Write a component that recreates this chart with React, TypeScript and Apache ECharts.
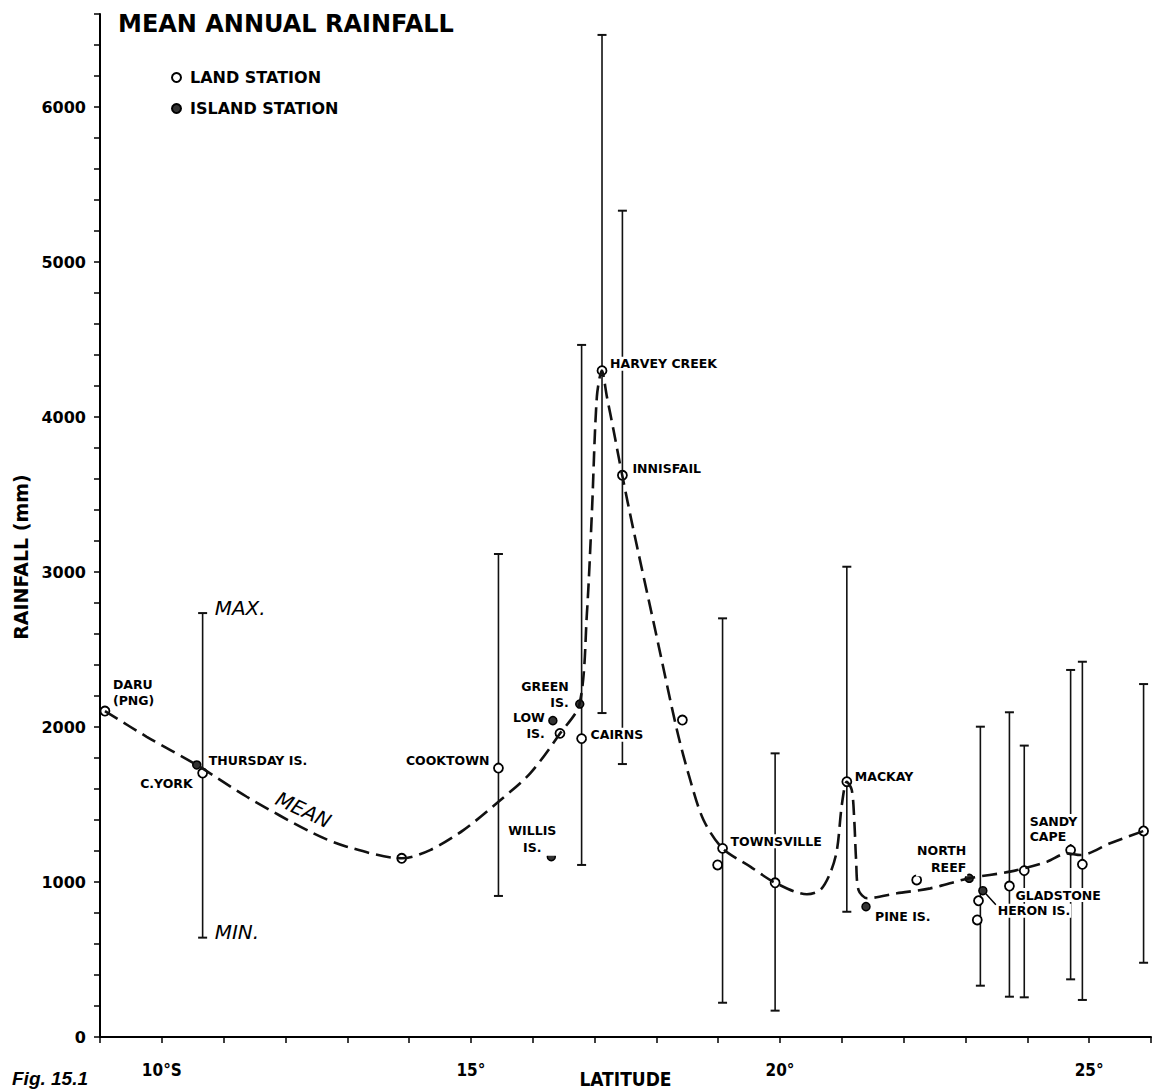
import React, { useEffect, useRef } from 'react';
import * as echarts from 'echarts';

// ---------- data ----------
const xTickLabels: Record<number, string> = { 10: '10°S', 15: '15°', 20: '20°', 25: '25°' };
const yTickLabels = [0, 1000, 2000, 3000, 4000, 5000, 6000];

const landLat = [9.08, 10.66, 13.88, 15.445, 16.44, 16.79, 17.12, 17.45, 18.42, 18.99, 19.07, 19.92, 21.08, 22.21, 23.19, 23.21, 23.71, 23.95, 24.70, 24.89, 25.88];
const landRain = [2103, 1703, 1153, 1735, 1959, 1925, 4299, 3624, 2045, 1110, 1217, 995, 1647, 1013, 755, 879, 974, 1073, 1206, 1114, 1329];
const landName = ['DARU\n(PNG)', 'C.YORK', '', 'COOKTOWN', '', 'CAIRNS', 'HARVEY CREEK', 'INNISFAIL', '', '', 'TOWNSVILLE', '', 'MACKAY', '', '', '', 'GLADSTONE', '', 'SANDY\nCAPE', '', ''];

const islandLat = [10.565, 16.30, 16.325, 16.76, 21.39, 23.06, 23.28];
const islandRain = [1755, 1163, 2041, 2148, 841, 1024, 944];
const islandName = ['THURSDAY IS.', 'WILLIS\nIS.', 'LOW\nIS.', 'GREEN\nIS.', 'PINE IS.', 'NORTH\nREEF', 'HERON IS.'];

const rangeLat = [10.66, 15.445, 16.79, 17.12, 17.45, 19.07, 19.92, 21.08, 23.24, 23.71, 23.95, 24.70, 24.89, 25.88];
const rangeMin = [641, 910, 1110, 2090, 1761, 221, 170, 808, 331, 260, 256, 372, 239, 479];
const rangeMax = [2735, 3116, 4465, 6465, 5331, 2701, 1830, 3034, 2002, 2095, 1880, 2368, 2421, 2277];

const meanLat = [9.08, 9.756, 10.565, 11.374, 12.451, 12.992, 13.882, 14.34, 14.879, 15.445, 15.958, 16.443, 16.756, 16.876, 16.956, 17.037, 17.118, 17.199, 17.306, 17.447, 17.629, 17.981, 18.332, 18.547, 18.762, 19.07, 19.518, 19.922, 20.435, 20.65, 20.81, 20.92, 21.0, 21.08, 21.16, 21.2, 21.23, 21.27, 21.41, 21.89, 22.43, 23.06, 23.72, 24.32, 24.64, 24.86, 25.34, 25.88];
const meanRain = [2103, 1937, 1755, 1550, 1314, 1228, 1153, 1206, 1335, 1518, 1701, 1959, 2148, 2734, 3379, 4131, 4299, 4131, 3916, 3624, 3271, 2626, 1981, 1658, 1400, 1217, 1099, 995, 921, 948, 1056, 1206, 1500, 1647, 1594, 1400, 1142, 948, 895, 927, 959, 1024, 1067, 1131, 1185, 1174, 1250, 1329];

// ---------- label layout (styling) ----------
type Lay = { offset: [number, number]; align: 'left' | 'right' | 'center'; lh?: number };
const labelLayout: Record<string, Lay> = {
  'DARU\n(PNG)': { offset: [7, -19], align: 'left', lh: 16 },
  'C.YORK': { offset: [-9, 10], align: 'right' },
  'COOKTOWN': { offset: [-8, -8], align: 'right' },
  'CAIRNS': { offset: [8, -4], align: 'left' },
  'HARVEY CREEK': { offset: [7, -7], align: 'left' },
  'INNISFAIL': { offset: [9, -7], align: 'left' },
  'TOWNSVILLE': { offset: [7, -7], align: 'left' },
  'MACKAY': { offset: [7, -5], align: 'left' },
  'GLADSTONE': { offset: [5, 9], align: 'left' },
  'SANDY\nCAPE': { offset: [-42, -21], align: 'left', lh: 15 },
  'THURSDAY IS.': { offset: [11, -4], align: 'left' },
  'WILLIS\nIS.': { offset: [-19, -18], align: 'center', lh: 17 },
  'LOW\nIS.': { offset: [-7, 5], align: 'right', lh: 16 },
  'GREEN\nIS.': { offset: [-10, -10], align: 'right', lh: 16 },
  'PINE IS.': { offset: [8, 10], align: 'left' },
  'NORTH\nREEF': { offset: [-2, -19], align: 'right', lh: 17 },
  'HERON IS.': { offset: [14, 20], align: 'left' },
};

const FONT = 'DejaVu Sans';
const COND = "'DejaVu Sans Condensed', 'DejaVu Sans'";

function buildPoints(lat: number[], rain: number[], names: string[]) {
  return lat.map((x, i) => {
    const name = names[i];
    const item: any = { value: [x, rain[i]], name };
    const lay = labelLayout[name];
    if (name && lay) {
      item.label = {
        show: true,
        formatter: name,
        position: 'inside',
        align: lay.align,
        verticalAlign: 'middle',
        offset: lay.offset,
        lineHeight: lay.lh ?? 14,
        color: '#000',
        fontSize: 12.5,
        fontWeight: 'bold',
        fontFamily: FONT,
        backgroundColor: '#fff',
        padding: [0, 1],
      };
    }
    return item;
  });
}

export default function App() {
  const ref = useRef<HTMLDivElement>(null);

  useEffect(() => {
    document.body.style.margin = '0';
    if (!ref.current) return;
    const chart = echarts.init(ref.current, null, { renderer: 'svg' });

    const rangeData = rangeLat.map((x, i) => [x, rangeMin[i], rangeMax[i]]);
    const meanData = meanLat.map((x, i) => [x, meanRain[i]]);

    chart.setOption({
      animation: false,
      backgroundColor: '#fff',
      title: {
        text: 'MEAN ANNUAL RAINFALL',
        left: 113,
        top: 7,
        textStyle: { fontFamily: FONT, fontSize: 24, fontWeight: 'bold', color: '#000' },
      },
      legend: {
        data: ['LAND STATION', 'ISLAND STATION'],
        orient: 'vertical',
        left: 171,
        top: 69,
        padding: 0,
        itemWidth: 9,
        itemHeight: 9,
        itemGap: 14,
        selectedMode: false,
        textStyle: { fontFamily: FONT, fontSize: 16, fontWeight: 'bold', color: '#000', lineHeight: 17, padding: [0, 0, 0, 4] },
      },
      grid: { left: 100, right: 2, top: 14, bottom: 53, containLabel: false, outerBoundsMode: 'none' },
      xAxis: {
        type: 'value',
        min: 9,
        max: 26,
        interval: 1,
        splitLine: { show: false },
        axisLine: { lineStyle: { color: '#000', width: 2 } },
        axisTick: { length: 6, lineStyle: { color: '#000', width: 1.5 } },
        axisLabel: {
          formatter: (v: number) => xTickLabels[v] ?? '',
          margin: 24,
          fontSize: 17,
          fontWeight: 'bold',
          color: '#000',
          fontFamily: COND,
        },
        name: 'LATITUDE',
        nameLocation: 'middle',
        nameGap: 32,
        nameMoveOverlap: false,
        nameTextStyle: { fontSize: 19, fontWeight: 'bold', color: '#000', fontFamily: COND },
      },
      yAxis: {
        type: 'value',
        min: 0,
        max: 6600,
        interval: 200,
        splitLine: { show: false },
        axisLine: { lineStyle: { color: '#000', width: 2 } },
        axisTick: { length: 6, lineStyle: { color: '#000', width: 1.5 } },
        axisLabel: {
          formatter: (v: number) => (yTickLabels.includes(v) ? String(v) : ''),
          margin: 14,
          fontSize: 16,
          fontWeight: 'bold',
          color: '#000',
          fontFamily: FONT,
        },
      },
      series: [
        {
          type: 'custom',
          name: 'range',
          silent: true,
          data: rangeData,
          encode: { x: 0, y: [1, 2] },
          renderItem: (params: any, api: any) => {
            const x = api.value(0);
            const lo = api.coord([x, api.value(1)]);
            const hi = api.coord([x, api.value(2)]);
            const w = 4.5;
            const st = { stroke: '#111', lineWidth: 1.6 };
            return {
              type: 'group',
              children: [
                { type: 'line', shape: { x1: lo[0], y1: lo[1], x2: hi[0], y2: hi[1] }, style: st },
                { type: 'line', shape: { x1: lo[0] - w, y1: lo[1], x2: lo[0] + w, y2: lo[1] }, style: { stroke: '#111', lineWidth: 2 } },
                { type: 'line', shape: { x1: hi[0] - w, y1: hi[1], x2: hi[0] + w, y2: hi[1] }, style: { stroke: '#111', lineWidth: 2 } },
              ],
            };
          },
        },
        {
          type: 'line',
          name: 'mean',
          silent: true,
          data: meanData,
          showSymbol: false,
          symbol: 'none',
          smooth: 0.3,
          lineStyle: { color: '#111', width: 2.6, type: [15, 7] },
        },
        {
          type: 'scatter',
          name: 'LAND STATION',
          silent: true,
          symbol: 'circle',
          symbolSize: 9,
          itemStyle: { color: '#fff', borderColor: '#000', borderWidth: 1.8, opacity: 1 },
          data: buildPoints(landLat, landRain, landName),
        },
        {
          type: 'scatter',
          name: 'ISLAND STATION',
          silent: true,
          symbol: 'circle',
          symbolSize: 8,
          itemStyle: { color: '#333', borderColor: '#000', borderWidth: 1.5, opacity: 1 },
          data: buildPoints(islandLat, islandRain, islandName),
        },
      ],
    });

    const P = (x: number, y: number) => chart.convertToPixel({ gridIndex: 0 } as any, [x, y]) as number[];
    const cyTop = P(rangeLat[0], rangeMax[0]);
    const cyBot = P(rangeLat[0], rangeMin[0]);
    const meanPos = P(12.29, 1465);
    const heron = P(islandLat[6], islandRain[6]);
    const annot = { fontFamily: FONT, fontSize: 20, fontStyle: 'italic', fill: '#000' };

    chart.setOption({
      graphic: [
        {
          type: 'text',
          x: 21,
          y: 557,
          rotation: Math.PI / 2,
          silent: true,
          style: { text: 'RAINFALL (mm)', align: 'center', verticalAlign: 'middle', fontFamily: FONT, fontSize: 19, fontWeight: 'bold', fill: '#000' },
        },
        {
          type: 'text',
          x: 12,
          y: 1078,
          silent: true,
          style: { text: 'Fig. 15.1', align: 'left', verticalAlign: 'middle', fontFamily: 'Liberation Sans', fontSize: 19, fontWeight: 'bold', fontStyle: 'italic', fill: '#000' },
        },
        { type: 'text', x: cyTop[0] + 12, y: cyTop[1] - 5, silent: true, style: { ...annot, text: 'MAX.', align: 'left', verticalAlign: 'middle' } },
        { type: 'text', x: cyBot[0] + 12, y: cyBot[1] - 6, silent: true, style: { ...annot, text: 'MIN.', align: 'left', verticalAlign: 'middle' } },
        { type: 'text', x: meanPos[0], y: meanPos[1], rotation: -0.44, silent: true, style: { ...annot, text: 'MEAN', align: 'center', verticalAlign: 'middle' } },
        {
          type: 'line',
          silent: true,
          shape: { x1: heron[0] + 3, y1: heron[1] + 3, x2: heron[0] + 13, y2: heron[1] + 14 },
          style: { stroke: '#000', lineWidth: 1.5 },
        },
      ],
    });

    return () => chart.dispose();
  }, []);

  return <div ref={ref} style={{ position: 'absolute', left: 0, top: 0, width: 1153, height: 1090 }} />;
}
